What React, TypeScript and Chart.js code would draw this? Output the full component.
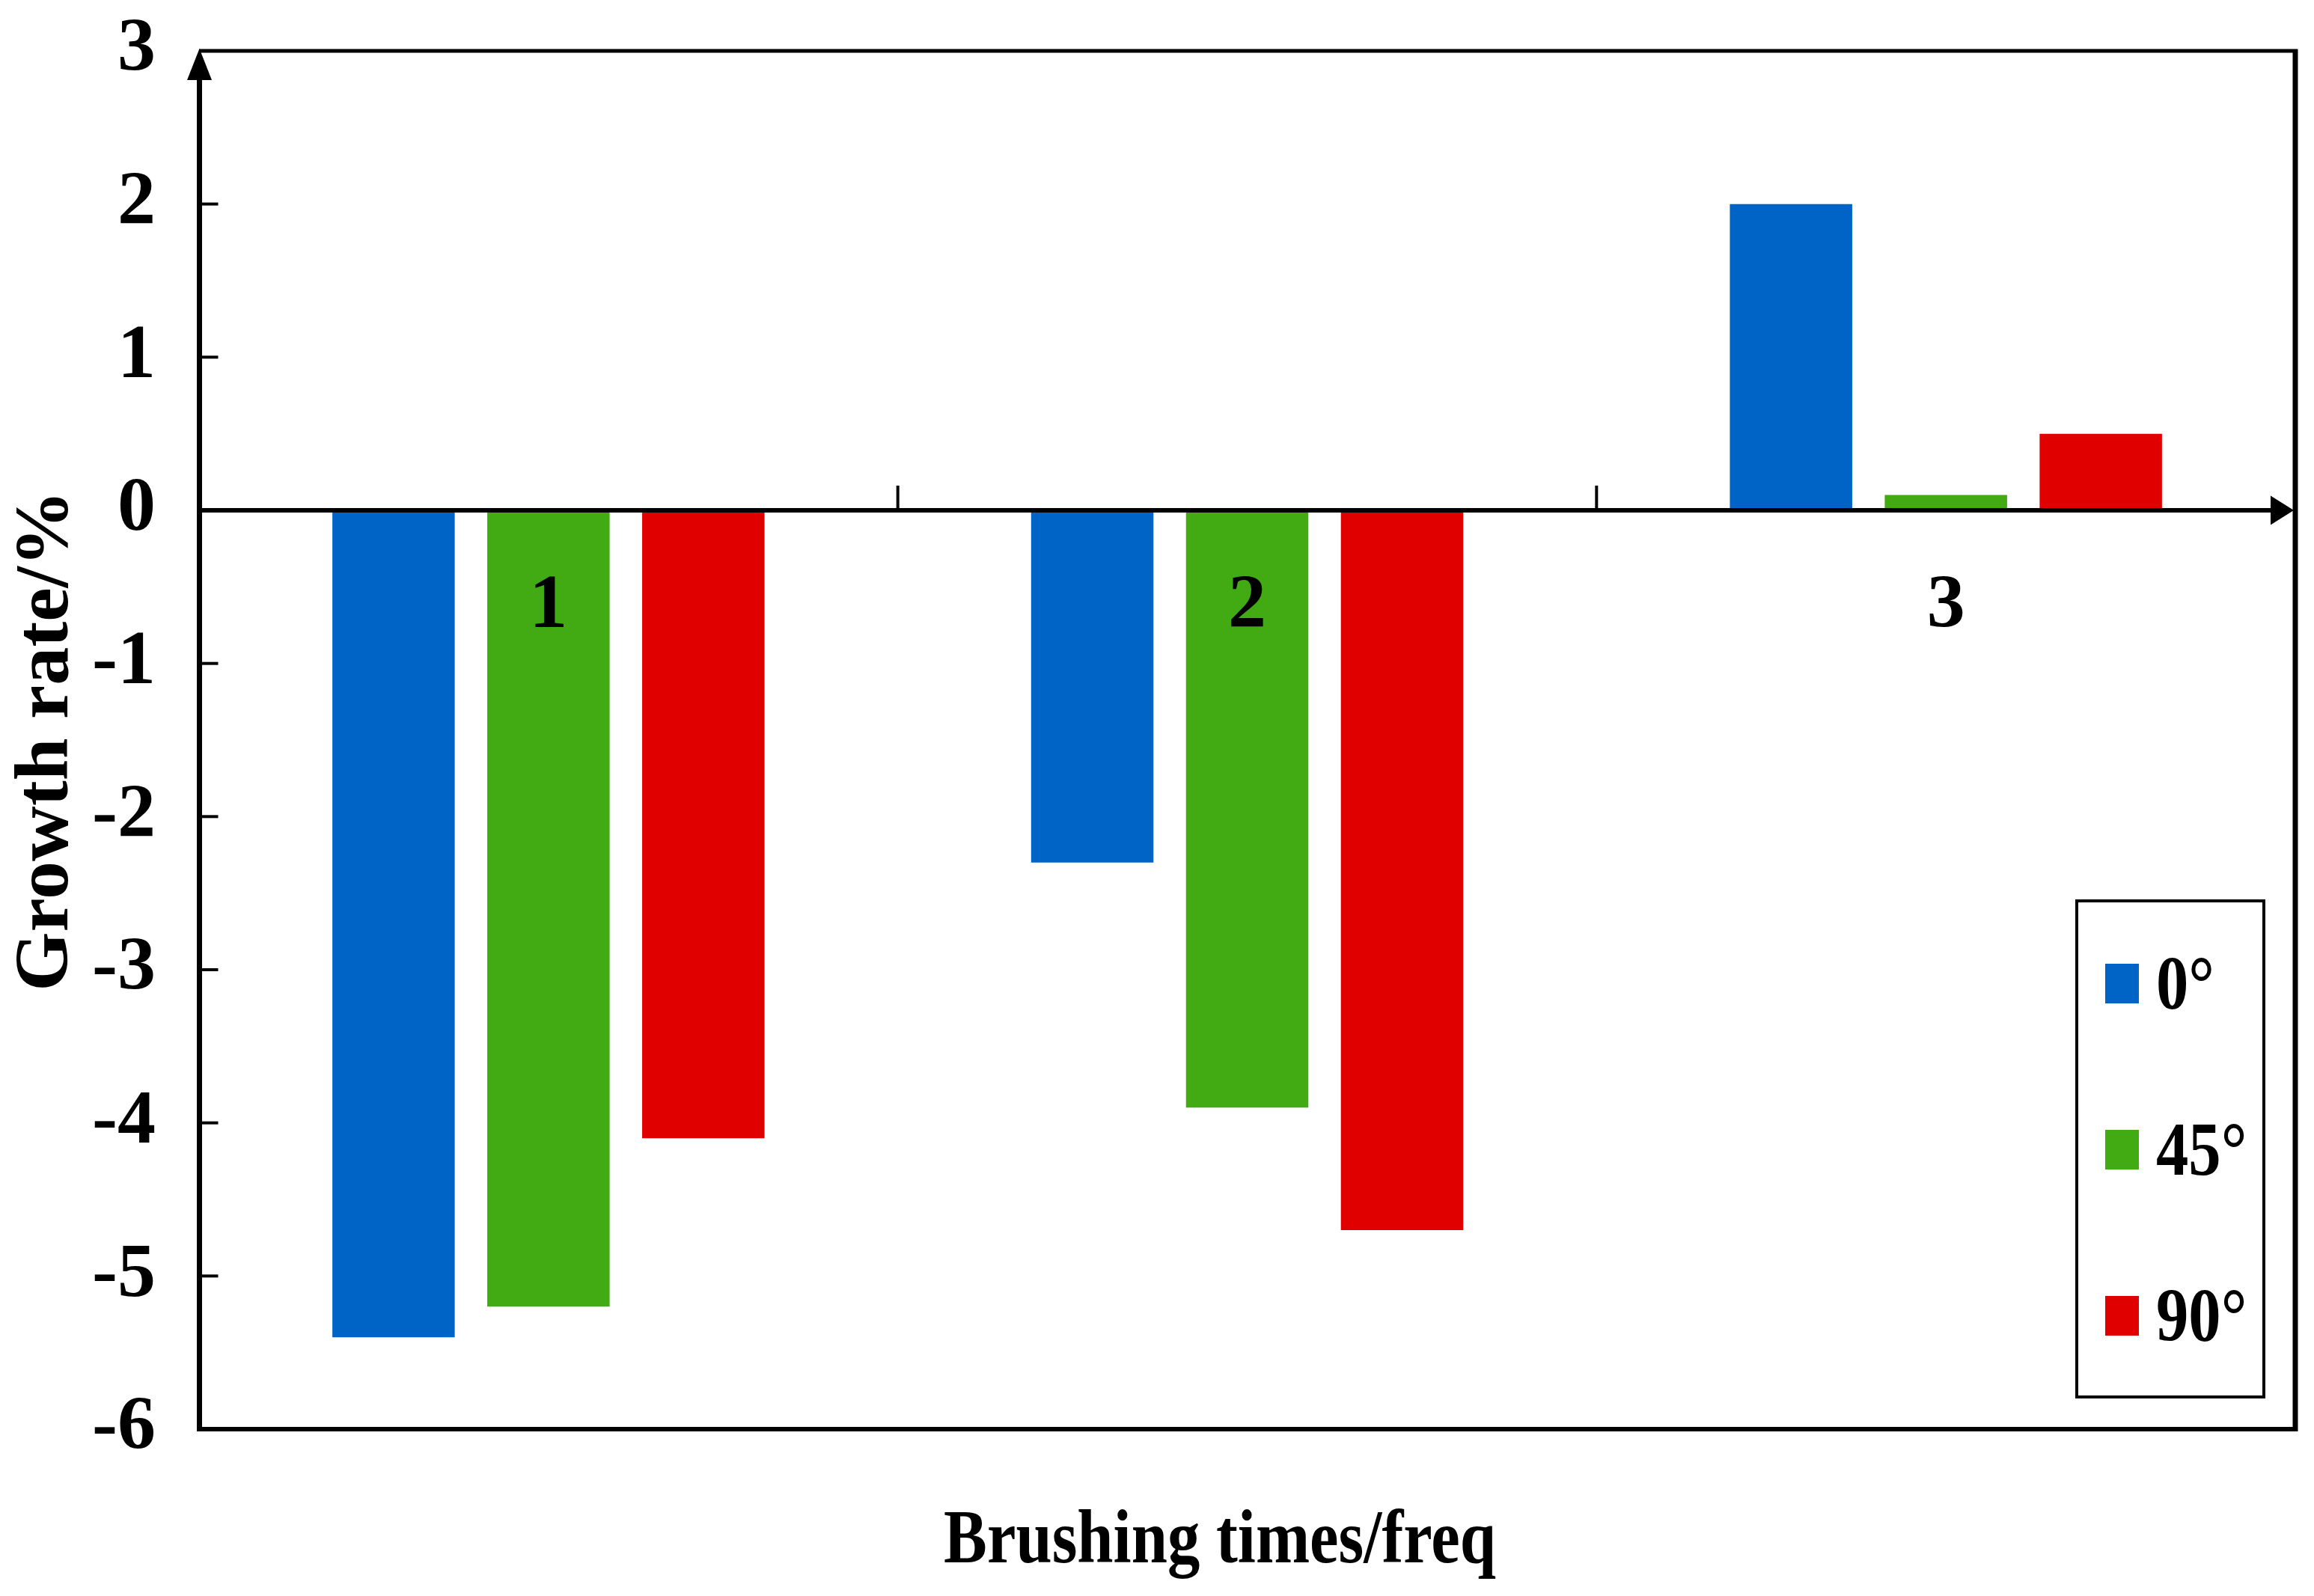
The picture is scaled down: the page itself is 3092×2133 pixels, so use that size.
import React, { useEffect, useRef } from 'react';
import { Chart, registerables } from 'chart.js';

Chart.register(...registerables);

const categories = ['1', '2', '3'];
const seriesLabels = ['0°', '45°', '90°'];
const values0 = [-5.4, -2.3, 2.0];
const values45 = [-5.2, -3.9, 0.1];
const values90 = [-4.1, -4.7, 0.5];
const seriesColors = ['#0063C6', '#42AA12', '#E00000'];
const yMin = -6;
const yMax = 3;
const yStep = 1;
const xTitle = 'Brushing times/freq';
const yTitle = 'Growth rate/%';

const FONT = '"Liberation Serif", "Times New Roman", serif';
const W = 3092;
const H = 2133;

const decorPlugin = {
  id: 'decor',
  afterDatasetsDraw(chart: any) {
    const { ctx, chartArea } = chart;
    const xs = chart.scales.x;
    const ys = chart.scales.y;
    const L = chartArea.left;
    const R = chartArea.right;
    const T = chartArea.top;
    const B = chartArea.bottom;
    const zeroY = ys.getPixelForValue(0);
    ctx.save();
    ctx.fillStyle = '#000';
    ctx.strokeStyle = '#000';
    ctx.lineCap = 'butt';

    // frame: top, right, bottom
    ctx.lineWidth = 5;
    ctx.beginPath();
    ctx.moveTo(L, T);
    ctx.lineTo(R + 3, T);
    ctx.stroke();
    ctx.lineWidth = 7;
    ctx.beginPath();
    ctx.moveTo(R, T - 2);
    ctx.lineTo(R, B + 3);
    ctx.stroke();
    ctx.lineWidth = 6;
    ctx.beginPath();
    ctx.moveTo(L - 3, B);
    ctx.lineTo(R, B);
    ctx.stroke();

    // left axis with up arrow
    const ax = L + 0.5;
    ctx.lineWidth = 7;
    ctx.beginPath();
    ctx.moveTo(ax, B + 3);
    ctx.lineTo(ax, T + 30);
    ctx.stroke();
    ctx.beginPath();
    ctx.moveTo(ax, T - 3);
    ctx.lineTo(ax - 16.5, T + 39);
    ctx.lineTo(ax + 16.5, T + 39);
    ctx.closePath();
    ctx.fill();

    // zero line with right arrow
    ctx.lineWidth = 6;
    ctx.beginPath();
    ctx.moveTo(L, zeroY);
    ctx.lineTo(R - 25, zeroY);
    ctx.stroke();
    ctx.beginPath();
    ctx.moveTo(R - 2, zeroY);
    ctx.lineTo(R - 33, zeroY - 19.5);
    ctx.lineTo(R - 33, zeroY + 19.5);
    ctx.closePath();
    ctx.fill();

    // y tick marks (inward)
    ctx.lineWidth = 4;
    ys.ticks.forEach((t: any) => {
      const y = ys.getPixelForValue(t.value);
      if (t.value === yMin || t.value === yMax || t.value === 0) return;
      ctx.beginPath();
      ctx.moveTo(ax, y);
      ctx.lineTo(ax + 25, y);
      ctx.stroke();
    });

    // x tick marks at category boundaries (upward from zero line)
    const labels = chart.data.labels as string[];
    for (let i = 0; i < labels.length - 1; i++) {
      const x = (xs.getPixelForValue(i) + xs.getPixelForValue(i + 1)) / 2;
      ctx.beginPath();
      ctx.moveTo(x, zeroY);
      ctx.lineTo(x, zeroY - 33);
      ctx.stroke();
    }

    // category labels below zero line
    ctx.font = `bold 102px ${FONT}`;
    ctx.textAlign = 'center';
    ctx.textBaseline = 'alphabetic';
    labels.forEach((lab, i) => {
      ctx.fillText(lab, xs.getPixelForValue(i), zeroY + 156);
    });

    // legend
    const lx = 2775;
    const ly = 1204;
    const lw = 250;
    const lh = 663;
    ctx.lineWidth = 4;
    ctx.strokeRect(lx, ly, lw, lh);
    chart.data.datasets.forEach((ds: any, i: number) => {
      const cy = 1314 + i * 222;
      ctx.fillStyle = ds.backgroundColor;
      ctx.fillRect(2813, cy - 26, 45, 53);
      ctx.fillStyle = '#000';
      ctx.save();
      ctx.translate(2881, cy + 34);
      ctx.scale(0.85, 1);
      ctx.textAlign = 'left';
      ctx.fillText(ds.label, 0, 0);
      ctx.restore();
    });

    // x title (condensed)
    ctx.save();
    ctx.translate(1630, 2088);
    ctx.scale(0.85, 1);
    ctx.textAlign = 'center';
    ctx.fillText(xTitle, 0, 0);
    ctx.restore();

    // y title
    ctx.save();
    ctx.translate(90, 990);
    ctx.rotate(-Math.PI / 2);
    ctx.textAlign = 'center';
    ctx.fillText(yTitle, 0, 0);
    ctx.restore();

    ctx.restore();
  },
};

export default function App() {
  const canvasRef = useRef<HTMLCanvasElement | null>(null);

  useEffect(() => {
    document.body.style.margin = '0';
    const canvas = canvasRef.current;
    if (!canvas) return;
    const datasets = [values0, values45, values90].map((vals, i) => ({
      label: seriesLabels[i],
      data: vals,
      backgroundColor: seriesColors[i],
      borderWidth: 0,
      barPercentage: 0.79,
      categoryPercentage: 0.665,
    }));
    const chart = new Chart(canvas, {
      type: 'bar',
      data: { labels: categories, datasets },
      options: {
        responsive: false,
        animation: false,
        devicePixelRatio: 1,
        layout: { padding: { left: 0, right: W - 3067, top: 68, bottom: 0 } },
        plugins: {
          legend: { display: false },
          tooltip: { enabled: false },
          title: { display: false },
        },
        scales: {
          x: {
            type: 'category',
            grid: { display: false, drawTicks: false },
            border: { display: false },
            ticks: { display: false },
            afterFit: (scale: any) => {
              scale.height = H - 1910;
              scale.paddingLeft = 0;
              scale.paddingRight = 0;
            },
          },
          y: {
            type: 'linear',
            min: yMin,
            max: yMax,
            grid: { display: false, drawTicks: false },
            border: { display: false },
            ticks: {
              stepSize: yStep,
              padding: 58,
              color: '#000',
              font: { family: FONT, size: 102, weight: 'bold' },
            },
            afterFit: (scale: any) => {
              scale.width = 266;
              scale.paddingTop = 0;
              scale.paddingBottom = 0;
            },
          },
        },
      },
      plugins: [decorPlugin],
    });
    return () => chart.destroy();
  }, []);

  return (
    <div style={{ width: W, height: H, background: '#fff' }}>
      <canvas ref={canvasRef} width={W} height={H} style={{ display: 'block' }} />
    </div>
  );
}
